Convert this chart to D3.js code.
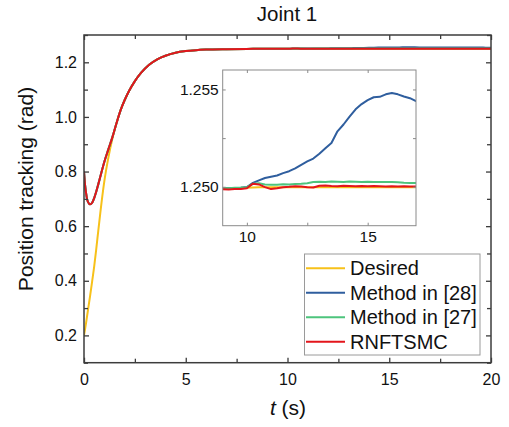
<!DOCTYPE html>
<html><head><meta charset="utf-8">
<script src="https://cdn.jsdelivr.net/npm/d3@7"></script>
<style>body{margin:0;background:#fff}svg{display:block;font-family:Arial,"Liberation Sans",sans-serif}</style>
</head><body><svg id="c" width="509" height="427"></svg>
<script>
// ---- data ----
const tEarly = [0, 0.05, 0.1, 0.15, 0.2, 0.3, 0.4, 0.5, 0.6, 0.7, 0.8, 1.0, 1.2, 1.4, 1.6, 1.8, 2.0, 2.2, 2.5, 2.8, 3.2, 3.6, 4.0, 4.5, 5.0, 5.5, 6, 7, 8];
const tLate = [9, 9.25, 9.5, 9.75, 10, 10.25, 10.5, 10.75, 11, 11.25, 11.5, 11.75, 12, 12.25, 12.5, 12.75, 13, 13.25, 13.5, 13.75, 14, 14.25, 14.5, 14.75, 15, 15.25, 15.5, 15.75, 16, 16.25, 16.5, 16.75, 17, 17.25, 17.5, 17.75, 18, 18.25, 18.5, 18.75, 19, 19.25, 19.5, 19.75, 20];

const desiredEarly = [0.200, 0.222, 0.245, 0.270, 0.295, 0.345, 0.398, 0.452, 0.515, 0.582, 0.648, 0.765, 0.852, 0.922, 0.978, 1.025, 1.062, 1.093, 1.131, 1.161, 1.191, 1.211, 1.224, 1.235, 1.241, 1.2445, 1.2465, 1.2482, 1.2491];
const desiredLate = [1.24993, 1.24993, 1.24994, 1.24994, 1.24995, 1.24996, 1.24997, 1.24997, 1.24998, 1.24998, 1.24998, 1.24998, 1.24998, 1.24998, 1.24998, 1.24998, 1.24998, 1.24998, 1.24998, 1.24998, 1.24998, 1.24998, 1.24998, 1.24998, 1.24998, 1.24998, 1.24998, 1.24998, 1.24998, 1.24998, 1.24998, 1.24998, 1.24998, 1.24998, 1.24998, 1.24998, 1.24998, 1.24998, 1.24998, 1.24998, 1.24998, 1.24998, 1.24998, 1.24998, 1.24998];

const m28Early = [0.800, 0.752, 0.722, 0.700, 0.688, 0.680, 0.686, 0.703, 0.726, 0.753, 0.781, 0.836, 0.882, 0.927, 0.978, 1.025, 1.062, 1.093, 1.131, 1.161, 1.191, 1.211, 1.224, 1.235, 1.241, 1.2445, 1.2465, 1.2482, 1.2491];
const m28Late = [1.24993, 1.24992, 1.24994, 1.24995, 1.24999, 1.25020, 1.25033, 1.25045, 1.25052, 1.25058, 1.25070, 1.25080, 1.25095, 1.25113, 1.25130, 1.25145, 1.25170, 1.25198, 1.25225, 1.25285, 1.25320, 1.25360, 1.25398, 1.25425, 1.25445, 1.25460, 1.25462, 1.25475, 1.25482, 1.25475, 1.25464, 1.25455, 1.25440, 1.25432, 1.25425, 1.25420, 1.25412, 1.25405, 1.25400, 1.25396, 1.25390, 1.25385, 1.25380, 1.25376, 1.25372];

const m27Early = [0.800, 0.752, 0.722, 0.700, 0.688, 0.680, 0.686, 0.703, 0.726, 0.753, 0.781, 0.836, 0.882, 0.927, 0.978, 1.025, 1.062, 1.093, 1.131, 1.161, 1.191, 1.211, 1.224, 1.235, 1.241, 1.2445, 1.2465, 1.2482, 1.2491];
const m27Late = [1.24994, 1.24993, 1.24995, 1.24996, 1.24998, 1.25015, 1.25018, 1.25012, 1.25010, 1.25011, 1.25013, 1.25012, 1.25014, 1.25015, 1.25018, 1.25024, 1.25026, 1.25025, 1.25027, 1.25026, 1.25025, 1.25027, 1.25026, 1.25025, 1.25026, 1.25024, 1.25025, 1.25024, 1.25025, 1.25023, 1.25021, 1.25020, 1.25019, 1.25019, 1.25020, 1.25019, 1.25018, 1.25019, 1.25020, 1.25019, 1.25018, 1.25019, 1.25018, 1.25019, 1.25018];

const rnftsmcEarly = [0.800, 0.752, 0.722, 0.700, 0.688, 0.680, 0.686, 0.703, 0.726, 0.753, 0.781, 0.836, 0.882, 0.927, 0.978, 1.025, 1.062, 1.093, 1.131, 1.161, 1.191, 1.211, 1.224, 1.235, 1.241, 1.2445, 1.2465, 1.2482, 1.2491];
const rnftsmcLate = [1.24987, 1.24986, 1.24988, 1.24989, 1.24992, 1.25016, 1.25012, 1.24998, 1.24988, 1.24992, 1.24998, 1.25000, 1.25003, 1.25002, 1.24998, 1.24996, 1.25005, 1.25006, 1.25004, 1.25003, 1.25005, 1.25004, 1.25003, 1.25004, 1.25003, 1.25004, 1.25003, 1.25002, 1.25003, 1.25002, 1.25003, 1.25002, 1.25001, 1.25001, 1.25002, 1.25001, 1.25000, 1.25001, 1.25002, 1.25001, 1.25000, 1.25001, 1.25000, 1.25001, 1.25000];

const seriesNames = ["Desired", "Method in [28]", "Method in [27]", "RNFTSMC"];
const seriesColors = ["#F7C11A", "#2F5E9E", "#4DC47C", "#E3151B"];
const xTicks = [0, 5, 10, 15, 20];
const xMinor = [2.5, 7.5, 12.5, 17.5];
const yTicks = [0.2, 0.4, 0.6, 0.8, 1.0, 1.2];
const yMinor = [0.1, 0.3, 0.5, 0.7, 0.9, 1.1, 1.3];
const insetXTicks = [10, 15];
const insetXMinor = [12.5];
const insetYTicks = [1.250, 1.255];
const insetYMinor = [1.2525];

// ---- build ----
const time = tEarly.concat(tLate);
const values = [
  desiredEarly.concat(desiredLate),
  m28Early.concat(m28Late),
  m27Early.concat(m27Late),
  rnftsmcEarly.concat(rnftsmcLate)
];
const series = seriesNames.map((n, i) => ({name: n, color: seriesColors[i], pts: time.map((t, j) => [t, values[i][j]])}));

const svg = d3.select("#c");
svg.append("rect").attr("width", 509).attr("height", 427).attr("fill", "#fff");

const M = {l: 84, r: 491, t: 35, b: 362.7};
const x = d3.scaleLinear().domain([0, 20]).range([M.l, M.r]);
const y = d3.scaleLinear().domain([0.1, 1.3]).range([M.b, M.t]);
const axisColor = "#3c3c3c";

svg.append("clipPath").attr("id", "clipMain").append("rect")
  .attr("x", M.l).attr("y", M.t).attr("width", M.r - M.l).attr("height", M.b - M.t);

const lineMain = d3.line().x(d => x(d[0])).y(d => y(d[1])).curve(d3.curveMonotoneX);
const gMain = svg.append("g").attr("clip-path", "url(#clipMain)");
series.forEach(s => {
  gMain.append("path").attr("d", lineMain(s.pts)).attr("fill", "none")
    .attr("stroke", s.color).attr("stroke-width", 2);
});

function styleAxis(g) {
  g.select(".domain").remove();
  g.selectAll("line").attr("stroke", axisColor).attr("stroke-width", 1.3);
  g.selectAll("text").attr("fill", "#111").style("font-size", "16px").style("font-family", "Arial, 'Liberation Sans', sans-serif");
}
function noLabels(g) { g.selectAll("text").remove(); }

// bottom
svg.append("g").attr("transform", `translate(0,${M.b})`)
  .call(d3.axisBottom(x).tickValues(xTicks).tickSize(-5).tickPadding(11).tickFormat(d3.format("d"))).call(styleAxis);
svg.append("g").attr("transform", `translate(0,${M.b})`)
  .call(d3.axisBottom(x).tickValues(xMinor).tickSize(-4)).call(styleAxis).call(noLabels);
// top
svg.append("g").attr("transform", `translate(0,${M.t})`)
  .call(d3.axisTop(x).tickValues(xTicks).tickSize(-5)).call(styleAxis).call(noLabels);
svg.append("g").attr("transform", `translate(0,${M.t})`)
  .call(d3.axisTop(x).tickValues(xMinor).tickSize(-4)).call(styleAxis).call(noLabels);
// left
svg.append("g").attr("transform", `translate(${M.l},0)`)
  .call(d3.axisLeft(y).tickValues(yTicks).tickSize(-5).tickPadding(7).tickFormat(d3.format(".1f"))).call(styleAxis);
svg.append("g").attr("transform", `translate(${M.l},0)`)
  .call(d3.axisLeft(y).tickValues(yMinor).tickSize(-4)).call(styleAxis).call(noLabels);
// right
svg.append("g").attr("transform", `translate(${M.r},0)`)
  .call(d3.axisRight(y).tickValues(yTicks).tickSize(-5)).call(styleAxis).call(noLabels);
svg.append("g").attr("transform", `translate(${M.r},0)`)
  .call(d3.axisRight(y).tickValues(yMinor).tickSize(-4)).call(styleAxis).call(noLabels);

svg.append("rect").attr("x", M.l).attr("y", M.t).attr("width", M.r - M.l).attr("height", M.b - M.t)
  .attr("fill", "none").attr("stroke", axisColor).attr("stroke-width", 1.5);

// titles
svg.append("text").attr("x", 287).attr("y", 21).attr("text-anchor", "middle")
  .style("font-size", "20.5px").attr("fill", "#111").text("Joint 1");
const xt = svg.append("text").attr("x", 288).attr("y", 415).attr("text-anchor", "middle")
  .style("font-size", "21px").attr("fill", "#111");
xt.append("tspan").style("font-style", "italic").text("t");
xt.append("tspan").text(" (s)");
svg.append("text").attr("transform", `translate(33,189) rotate(-90)`)
  .attr("text-anchor", "middle").style("font-size", "21px").attr("fill", "#111")
  .text("Position tracking (rad)");

// ---- inset ----
const I = {l: 222.7, r: 416, t: 70, b: 225.7};
const xi = d3.scaleLinear().domain([9, 17]).range([I.l, I.r]);
const yi = d3.scaleLinear().domain([1.248, 1.256]).range([I.b, I.t]);
svg.append("rect").attr("x", I.l).attr("y", I.t).attr("width", I.r - I.l).attr("height", I.b - I.t).attr("fill", "#fff");
svg.append("clipPath").attr("id", "clipInset").append("rect")
  .attr("x", I.l).attr("y", I.t).attr("width", I.r - I.l).attr("height", I.b - I.t);
const lineInset = d3.line().x(d => xi(d[0])).y(d => yi(d[1]));
const gIn = svg.append("g").attr("clip-path", "url(#clipInset)");
series.forEach(s => {
  gIn.append("path").attr("d", lineInset(s.pts.filter(p => p[0] >= 8.5))).attr("fill", "none")
    .attr("stroke", s.color).attr("stroke-width", 2).attr("stroke-linejoin", "round");
});
const insetAxisColor = "#8a8a8a";
function styleInset(g) {
  g.select(".domain").remove();
  g.selectAll("line").attr("stroke", insetAxisColor).attr("stroke-width", 1);
  g.selectAll("text").attr("fill", "#111").style("font-size", "15.5px").style("font-family", "Arial, 'Liberation Sans', sans-serif");
}
svg.append("g").attr("transform", `translate(0,${I.b})`)
  .call(d3.axisBottom(xi).tickValues(insetXTicks.concat(insetXMinor)).tickSize(-3).tickPadding(5)
    .tickFormat(d => insetXTicks.includes(d) ? d3.format("d")(d) : "")).call(styleInset);
svg.append("g").attr("transform", `translate(0,${I.t})`)
  .call(d3.axisTop(xi).tickValues(insetXTicks.concat(insetXMinor)).tickSize(-3)).call(styleInset).call(noLabels);
svg.append("g").attr("transform", `translate(${I.l},0)`)
  .call(d3.axisLeft(yi).tickValues(insetYTicks.concat(insetYMinor)).tickSize(-3).tickPadding(4)
    .tickFormat(d => insetYTicks.includes(d) ? d3.format(".3f")(d) : "")).call(styleInset);
svg.append("g").attr("transform", `translate(${I.r},0)`)
  .call(d3.axisRight(yi).tickValues(insetYTicks.concat(insetYMinor)).tickSize(-3)).call(styleInset).call(noLabels);
svg.append("rect").attr("x", I.l).attr("y", I.t).attr("width", I.r - I.l).attr("height", I.b - I.t)
  .attr("fill", "none").attr("stroke", insetAxisColor).attr("stroke-width", 1);

// ---- legend ----
const L = {x: 304.5, y: 254, w: 175.5, h: 101, step: 24.5};
svg.append("rect").attr("x", L.x).attr("y", L.y).attr("width", L.w).attr("height", L.h)
  .attr("fill", "#fff").attr("stroke", "#9a9a9a").attr("stroke-width", 1);
series.forEach((s, i) => {
  const cy = 268.3 + i * L.step;
  svg.append("line").attr("x1", 306).attr("x2", 345).attr("y1", cy).attr("y2", cy)
    .attr("stroke", s.color).attr("stroke-width", 2);
  svg.append("text").attr("x", 350).attr("y", cy + 7).style("font-size", "20px").attr("fill", "#111").text(s.name);
});
</script></body></html>
